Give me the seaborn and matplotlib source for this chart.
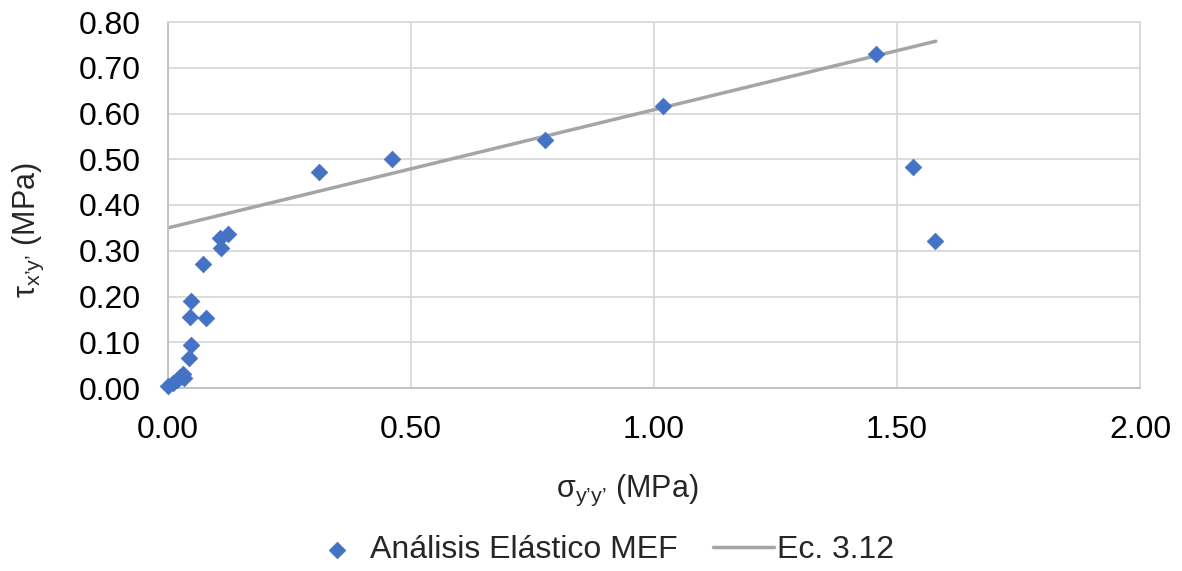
import numpy as np
import pandas as pd
import matplotlib
matplotlib.use("Agg")
import matplotlib.pyplot as plt
import seaborn as sns

# datos
sigma_mef = [0.000, 0.010, 0.018, 0.025, 0.030, 0.033, 0.044, 0.047, 0.045, 0.078,
             0.047, 0.073, 0.110, 0.107, 0.124, 0.310, 0.461, 0.776, 1.019, 1.456,
             1.533, 1.579]
tau_mef = [0.005, 0.012, 0.018, 0.025, 0.031, 0.022, 0.065, 0.093, 0.156, 0.153,
           0.190, 0.272, 0.305, 0.328, 0.336, 0.473, 0.501, 0.543, 0.617, 0.729,
           0.484, 0.322]

sigma_ec = [0.0, 1.58]
tau_ec = [0.35, 0.758]

x_ticks = [0.0, 0.5, 1.0, 1.5, 2.0]
y_ticks = [0.0, 0.1, 0.2, 0.3, 0.4, 0.5, 0.6, 0.7, 0.8]

azul = "#4472C4"
gris = "#A5A5A5"

sns.set_style("white")
plt.rcParams['font.family'] = ['Liberation Sans', 'DejaVu Sans']
plt.rcParams['mathtext.fontset'] = 'custom'
plt.rcParams['mathtext.rm'] = 'Liberation Sans'
plt.rcParams['mathtext.it'] = 'Liberation Sans'

df_mef = pd.DataFrame({'sigma': sigma_mef, 'tau': tau_mef})
df_ec = pd.DataFrame({'sigma': sigma_ec, 'tau': tau_ec})

fig = plt.figure(figsize=(11.82, 5.71), dpi=100)
ax = fig.add_axes([168 / 1182, 1 - 388 / 571, (1140 - 168) / 1182, (388 - 22) / 571])

sns.lineplot(data=df_ec, x='sigma', y='tau', ax=ax, color=gris, lw=2.5,
             label='Ec. 3.12', zorder=2)
sns.scatterplot(data=df_mef, x='sigma', y='tau', ax=ax, marker='D', s=72,
                color=azul, edgecolor=azul, linewidth=0.5,
                label='Análisis Elástico MEF', zorder=3, clip_on=False)

ax.set_xlim(0, 2.0)
ax.set_ylim(0, 0.8)
ax.set_xticks(x_ticks)
ax.set_yticks(y_ticks)
ax.set_xticklabels([f"{v:.2f}" for v in x_ticks])
ax.set_yticklabels([f"{v:.2f}" for v in y_ticks])
ax.tick_params(axis='both', length=0, labelsize=23, colors='black')
ax.tick_params(axis='x', pad=19.5)
ax.tick_params(axis='y', pad=19.5)

ax.grid(True, color='#D9D9D9', lw=1.3)
ax.set_axisbelow(True)
for s in ax.spines.values():
    s.set_color('#D9D9D9')
    s.set_linewidth(1.3)
ax.spines['left'].set_color('#BFBFBF')
ax.spines['bottom'].set_color('#BFBFBF')

ax.set_xlabel("σ$_{\\mathregular{y’y’}}$ (MPa)", fontsize=22)
ax.set_ylabel("τ$_{\\mathregular{x’y’}}$ (MPa)", fontsize=22)
ax.xaxis.set_label_coords(0.473, -0.232)
ax.yaxis.set_label_coords(-0.125, 0.43)

ax.get_legend().remove()
h, l = ax.get_legend_handles_labels()
order = [l.index('Análisis Elástico MEF'), l.index('Ec. 3.12')]
fig.legend([h[i] for i in order], [l[i] for i in order], loc='center',
           bbox_to_anchor=(600 / 1182, 1 - 550 / 571), ncol=2, frameon=False,
           fontsize=23, handlelength=1.9, handletextpad=0.1, columnspacing=1.1)

fig.savefig('out.png', dpi=100)
